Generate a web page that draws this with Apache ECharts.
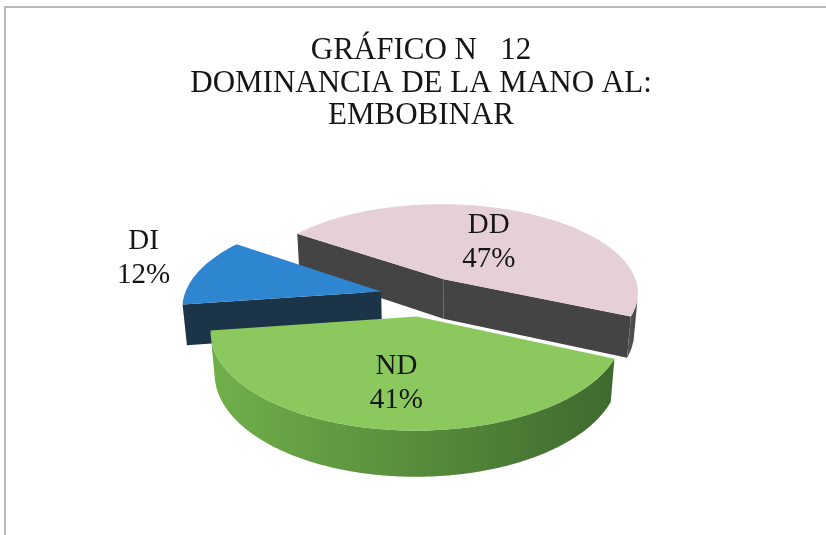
<!DOCTYPE html>
<html>
<head>
<meta charset="utf-8">
<script src="https://cdn.jsdelivr.net/npm/echarts@6/dist/echarts.min.js"></script>
<style>
  html, body { margin: 0; padding: 0; background: #ffffff; }
  #main { width: 826px; height: 535px; }
</style>
</head>
<body>
<div id="main"></div>
<script>
// datos del grafico
var categories = ['DD', 'ND', 'DI'];
var percents = [47, 41, 12];
var titleLines = ['GRÁFICO N   12', 'DOMINANCIA DE LA MANO AL:', 'EMBOBINAR'];

// colores (cara superior / lateral claro / lateral oscuro)
var topColors = ['#e6d0d7', '#8bc95e', '#2f86d0'];
var sideColors = [['#565656', '#444444'], ['#70b04a', '#3f6a2e'], ['#223f55', '#1c3447']];

// vista 3D
var CX = 423, CY = 296, S = 197;
var SIN = 0.46, COS = 0.888, DIST = 6;
var DEPTH = 0.235, EXPLODE = 0.22, START = 305;
var labelRadius = [0.52, 0.63, 1.53];
var labelLift = [0, 0, 0.04];

var total = percents.reduce(function (a, b) { return a + b; }, 0);
var rad = function (d) { return d * Math.PI / 180; };

function project(X, Y, Z) {
  var depth = Z * COS + Y * SIN;
  var p = DIST / (DIST - depth);
  return [CX + S * X * p, CY + S * (Z * SIN - Y * COS) * p];
}

function sliceAngles(i) {
  var before = 0;
  for (var k = 0; k < i; k++) before += percents[k];
  var a0 = START + 360 * before / total;
  return [a0, a0 + 360 * percents[i] / total];
}

function offsetOf(i) {
  var a = sliceAngles(i);
  var m = rad((a[0] + a[1]) / 2);
  return [EXPLODE * Math.sin(m), -EXPLODE * Math.cos(m)];
}

// ojo de la camara en coordenadas del mundo
var EYE = [0, DIST * SIN, DIST * COS];
function facing(n, P) {
  return n[0] * (EYE[0] - P[0]) + n[1] * (EYE[1] - P[1]) + n[2] * (EYE[2] - P[2]) > 0;
}

// orden de dibujo: de atras hacia adelante
var order = percents.map(function (v, i) { return i; }).sort(function (a, b) {
  return offsetOf(a)[1] - offsetOf(b)[1];
});

function renderItem(params, api) {
  var i = params.dataIndex;
  var a = sliceAngles(i);
  var a0 = a[0], a1 = a[1];
  var off = offsetOf(i);
  var ox = off[0], oz = off[1];
  var rank = order.indexOf(i);
  var children = [];

  function pt(t, r, Y) {
    return project(ox + r * Math.sin(rad(t)), Y, oz - r * Math.cos(rad(t)));
  }
  var sideFill = new echarts.graphic.LinearGradient(0, 0, 1, 0, [
    { offset: 0, color: sideColors[i][0] },
    { offset: 1, color: sideColors[i][1] }
  ]);

  // caras de corte
  [[a0, -1], [a1, 1]].forEach(function (e) {
    var t = rad(e[0]);
    var n = [e[1] * Math.cos(t), 0, e[1] * Math.sin(t)];
    var P = [ox + 0.5 * Math.sin(t), -DEPTH / 2, oz - 0.5 * Math.cos(t)];
    if (facing(n, P)) {
      children.push({
        type: 'polygon', z2: rank * 10 + 1,
        shape: { points: [pt(e[0], 0, 0), pt(e[0], 1, 0), pt(e[0], 1, -DEPTH), pt(e[0], 0, -DEPTH)] },
        style: { fill: sideColors[i][1] }
      });
    }
  });

  // pared exterior visible
  var run = [];
  var runs = [];
  var steps = Math.ceil(a1 - a0);
  for (var s = 0; s <= steps; s++) {
    var t = a0 + (a1 - a0) * s / steps;
    var tr = rad(t);
    var vis = facing([Math.sin(tr), 0, -Math.cos(tr)], [ox + Math.sin(tr), -DEPTH / 2, oz - Math.cos(tr)]);
    if (vis) run.push(t);
    else if (run.length) { runs.push(run); run = []; }
  }
  if (run.length) runs.push(run);
  runs.forEach(function (r) {
    if (r.length < 2) return;
    var pts = r.map(function (t) { return pt(t, 1, 0); });
    for (var k = r.length - 1; k >= 0; k--) pts.push(pt(r[k], 1, -DEPTH));
    children.push({
      type: 'polygon', z2: rank * 10 + 1,
      shape: { points: pts },
      style: { fill: sideFill }
    });
  });

  // cara superior
  var topPts = [pt(a0, 0, 0)];
  for (var s2 = 0; s2 <= steps; s2++) topPts.push(pt(a0 + (a1 - a0) * s2 / steps, 1, 0));
  children.push({
    type: 'polygon', z2: rank * 10 + 2,
    shape: { points: topPts },
    style: { fill: topColors[i] }
  });

  // etiqueta: dentro de la porcion o fuera si es pequena
  var mid = rad((a0 + a1) / 2);
  var lr = labelRadius[i];
  var lp = lr < 1
    ? project(ox + lr * Math.sin(mid), labelLift[i], oz - lr * Math.cos(mid))
    : project(lr * Math.sin(mid), labelLift[i], -lr * Math.cos(mid));
  children.push({
    type: 'text', z2: 100,
    style: {
      text: categories[i] + '\n' + Math.round(100 * api.value(0) / total) + '%',
      x: lp[0], y: lp[1],
      align: 'center', verticalAlign: 'middle',
      fontFamily: 'Liberation Serif', fontSize: 29, lineHeight: 34,
      fill: '#161616'
    }
  });

  return { type: 'group', children: children };
}

var chart = echarts.init(document.getElementById('main'), null, { renderer: 'canvas' });
chart.setOption({
  backgroundColor: '#ffffff',
  animation: false,
  title: {
    text: titleLines.join('\n'),
    left: 421, top: 35, padding: 0,
    textAlign: 'center',
    textStyle: {
      fontFamily: 'Liberation Serif', fontSize: 31, fontWeight: 'normal',
      color: '#161616', lineHeight: 32.5
    }
  },
  graphic: [{
    type: 'rect', z: -1,
    shape: { x: 5, y: 7, width: 840, height: 560 },
    style: { fill: 'none', stroke: '#b9b9b9', lineWidth: 2 }
  }],
  series: [{
    type: 'custom',
    coordinateSystem: 'none',
    renderItem: renderItem,
    data: percents.map(function (v, i) { return { name: categories[i], value: [v] }; })
  }]
});
</script>
</body>
</html>
